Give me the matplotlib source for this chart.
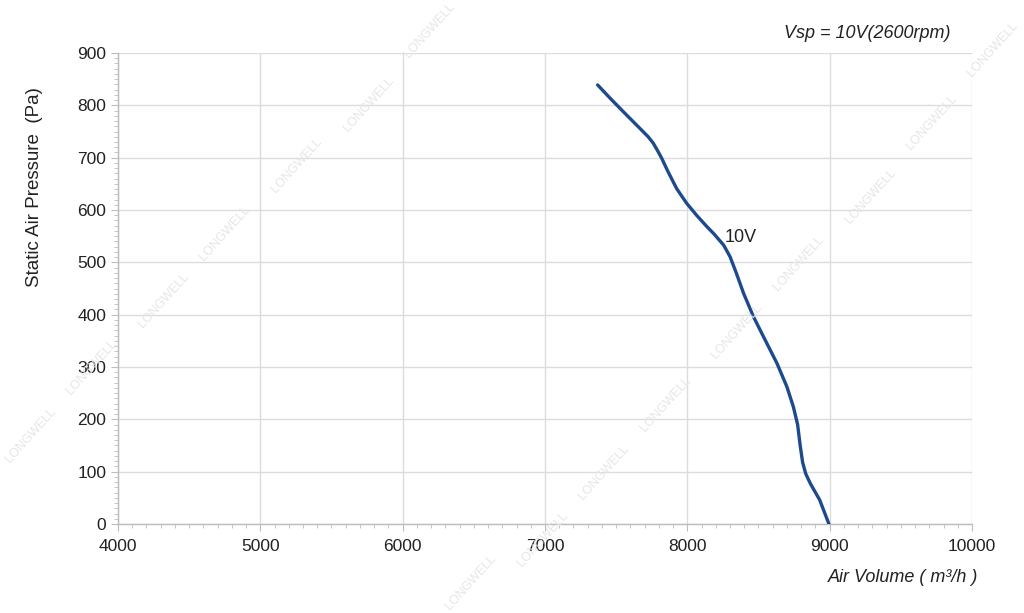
import matplotlib
matplotlib.use("Agg")
import matplotlib.pyplot as plt
from matplotlib.ticker import MultipleLocator

# Data
air_volume = [7370, 7460, 7550, 7645, 7725, 7760, 7790, 7820, 7865, 7925,
              7995, 8065, 8135, 8185, 8255, 8300, 8345, 8395, 8465, 8535,
              8630, 8700, 8745, 8775, 8793, 8810, 8832, 8865, 8930, 8995]
static_pressure = [839, 813, 788, 762, 740, 728, 714, 699, 673, 641,
                   613, 590, 569, 555, 533, 511, 479, 441, 396, 358,
                   307, 262, 224, 190, 150, 118, 96, 77, 46, 0]
curve_label = "10V"
x_ticks = [4000, 5000, 6000, 7000, 8000, 9000, 10000]
y_ticks = [0, 100, 200, 300, 400, 500, 600, 700, 800, 900]

plt.rcParams['font.family'] = ['Liberation Sans', 'DejaVu Sans']

fig = plt.figure(figsize=(10.24, 6.13), dpi=100)
ax = fig.add_axes([0.1152, 0.1452, 0.9492 - 0.1152, 0.9135 - 0.1452])

ax.plot(air_volume, static_pressure, color='#1c4a8c', lw=2.4,
        solid_capstyle='round', solid_joinstyle='round', zorder=3)
ax.text(8265, 548, curve_label, fontsize=13, color='#222222',
        ha='left', va='center', zorder=4)

ax.set_xlim(4000, 10000)
ax.set_ylim(0, 900)
ax.set_xticks(x_ticks)
ax.set_yticks(y_ticks)
ax.xaxis.set_minor_locator(MultipleLocator(100))
ax.yaxis.set_minor_locator(MultipleLocator(10))
ax.grid(True, which='major', color='#dcdcdc', lw=1.0)
ax.set_axisbelow(True)
for s in ['top', 'right']:
    ax.spines[s].set_visible(False)
for s in ['left', 'bottom']:
    ax.spines[s].set_color('#bcbcbc')
    ax.spines[s].set_linewidth(1.0)
ax.tick_params(which='major', length=5, color='#bcbcbc', labelsize=12.5,
               labelcolor='#222222')
ax.tick_params(which='minor', length=3, color='#bcbcbc')
ax.tick_params(axis='x', which='major', pad=6)

fig.text(35 / 1024, 1 - 187 / 613, "Static Air Pressure  (Pa)", fontsize=13.5,
         color='#222222', rotation=90, ha='center', va='center')
fig.text(0.955, 0.058, "Air Volume ( m³/h )", fontsize=13, style='italic',
         color='#222222', ha='right', va='center')
fig.text(0.928, 0.945, "Vsp = 10V(2600rpm)", fontsize=13, style='italic',
         color='#222222', ha='right', va='center')

# faint watermark text
wm_positions = [(0.42, 0.95), (0.36, 0.83), (0.29, 0.73), (0.22, 0.62),
                (0.16, 0.51), (0.09, 0.40), (0.03, 0.29),
                (0.97, 0.92), (0.91, 0.80), (0.85, 0.68), (0.78, 0.57),
                (0.72, 0.46), (0.65, 0.34), (0.59, 0.23), (0.53, 0.12),
                (0.46, 0.05)]
for (wx, wy) in wm_positions:
    fig.text(wx, wy, "LONGWELL", fontsize=9, color='#e6e6e6', rotation=48,
             ha='center', va='center', zorder=0)

fig.savefig("out.png", dpi=100)
